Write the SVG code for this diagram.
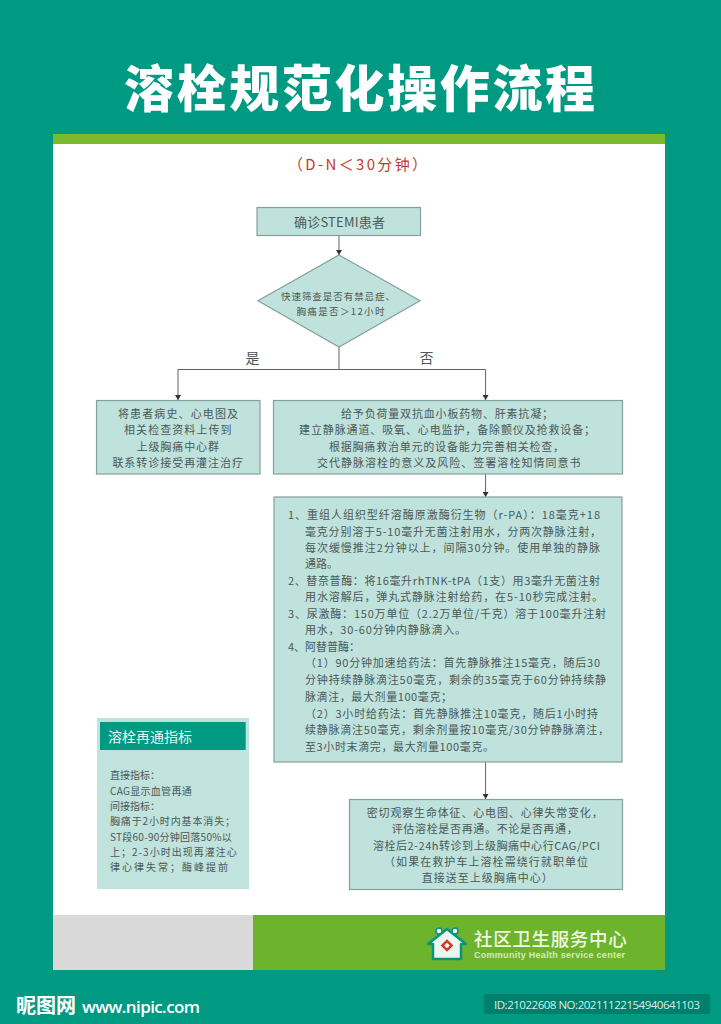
<svg xmlns="http://www.w3.org/2000/svg" width="721" height="1024" viewBox="0 0 721 1024">
<defs>
<marker id="arr" markerUnits="userSpaceOnUse" markerWidth="6" markerHeight="6" refX="5" refY="3" orient="auto"><path d="M0,0 L5,3 L0,6 Z" fill="#333"/></marker>
</defs>
<style>
text{font-family:"Noto Sans CJK SC","Liberation Sans",sans-serif;dominant-baseline:central;fill:#4c5856}
.box{fill:#bfe2dd;stroke:#84a09c;stroke-width:1.2}
.m{font-size:11px}
.n{font-size:10px}
.c{fill:none;stroke:#5c6664;stroke-width:1}
</style>
<rect width="721" height="1024" fill="#009a82"/>
<text x="124" y="85" textLength="471" lengthAdjust="spacing" style="font-size:50px;font-weight:900;fill:#fff">溶栓规范化操作流程</text>
<rect x="53" y="134" width="612" height="10" fill="#7bb92f"/>
<rect x="53" y="144" width="612" height="771" fill="#fff"/>
<rect x="53" y="915" width="200" height="55" fill="#d9d9d9"/>
<rect x="253" y="915" width="412" height="55" fill="#6db42c"/>
<text x="288" y="163" textLength="139" style="font-size:15px;fill:#c4392d">&#xFF08;D-N&#xFF1C;30分钟&#xFF09;</text>

<g id="connectors">
<path class="c" marker-end="url(#arr)" d="M339,236 V255"/>
<path class="c" d="M339,347 V369.5"/>
<path class="c" marker-end="url(#arr)" d="M339,369.5 H178 V400"/>
<path class="c" marker-end="url(#arr)" d="M339,369.5 H485.6 V400"/>
<path class="c" marker-end="url(#arr)" d="M485.6,474 V497"/>
<path class="c" marker-end="url(#arr)" d="M485.6,762 V799"/>
</g>

<g id="node-start">
<rect class="box" x="257" y="207.5" width="163.5" height="28"/>
<text x="294" y="221.7" textLength="91" style="font-size:13px">确诊STEMI患者</text>
</g>
<g id="node-decision">
<polygon class="box" points="339,255 420,300.8 339,347 258,300.8"/>
<text x="281" y="295.7" textLength="114" style="font-size:9.5px">快速筛查是否有禁忌症、</text>
<text x="296.5" y="311" textLength="88" style="font-size:9.5px">胸痛是否&#xFF1E;12小时</text>
</g>
<g id="label-yes"><text x="245.5" y="356.7" style="font-size:14px">是</text></g>
<g id="label-no"><text x="419.5" y="356.7" style="font-size:14px">否</text></g>

<g id="node-transfer">
<rect class="box" x="96.5" y="400.5" width="163.5" height="73.5"/>
<text class="m" x="118" y="412.7" textLength="120">将患者病史、心电图及</text>
<text class="m" x="124" y="429.3" textLength="107.5">相关检查资料上传到</text>
<text class="m" x="136.5" y="446" textLength="82.5">上级胸痛中心群</text>
<text class="m" x="112.4" y="462" textLength="130.6">联系转诊接受再灌注治疗</text>
</g>
<g id="node-treat">
<rect class="box" x="273.5" y="400.5" width="349" height="73.5"/>
<text class="m" x="341" y="412.7" textLength="212">给予负荷量双抗血小板药物、肝素抗凝&#xFF1B;</text>
<text class="m" x="299" y="429.3" textLength="296">建立静脉通道、吸氧、心电监护&#xFF0C;备除颤仪及抢救设备&#xFF1B;</text>
<text class="m" x="329" y="446" textLength="235">根据胸痛救治单元的设备能力完善相关检查&#xFF0C;</text>
<text class="m" x="317" y="462" textLength="263.5">交代静脉溶栓的意义及风险、签署溶栓知情同意书</text>
</g>
<g id="node-drugs">
<rect class="box" x="274" y="497" width="348" height="265"/>
<text class="m" x="288" y="514" textLength="312">1、重组人组织型纤溶酶原激酶衍生物&#xFF08;r-PA&#xFF09;&#xFF1A;18毫克+18</text>
<text class="m" x="305" y="530.7" textLength="296">毫克分别溶于5-10毫升无菌注射用水&#xFF0C;分两次静脉注射&#xFF0C;</text>
<text class="m" x="305" y="547.3" textLength="295">每次缓慢推注2分钟以上&#xFF0C;间隔30分钟。使用单独的静脉</text>
<text class="m" x="305" y="563.3" textLength="33">通路。</text>
<text class="m" x="288" y="580" textLength="312">2、替奈普酶&#xFF1A;将16毫升rhTNK-tPA&#xFF08;1支&#xFF09;用3毫升无菌注射</text>
<text class="m" x="305" y="596" textLength="298">用水溶解后&#xFF0C;弹丸式静脉注射给药&#xFF0C;在5-10秒完成注射。</text>
<text class="m" x="288" y="612.7" textLength="318">3、尿激酶&#xFF1A;150万单位&#xFF08;2.2万单位/千克&#xFF09;溶于100毫升注射</text>
<text class="m" x="305" y="629.3" textLength="161">用水&#xFF0C;30-60分钟内静脉滴入。</text>
<text class="m" x="288" y="646" textLength="72">4、阿替普酶&#xFF1A;</text>
<text class="m" x="305" y="661.7" textLength="295">&#xFF08;1&#xFF09;90分钟加速给药法&#xFF1A;首先静脉推注15毫克&#xFF0C;随后30</text>
<text class="m" x="305" y="679" textLength="301">分钟持续静脉滴注50毫克&#xFF0C;剩余的35毫克于60分钟持续静</text>
<text class="m" x="305" y="696" textLength="147">脉滴注&#xFF0C;最大剂量100毫克&#xFF1B;</text>
<text class="m" x="305" y="712.7" textLength="293">&#xFF08;2&#xFF09;3小时给药法&#xFF1A;首先静脉推注10毫克&#xFF0C;随后1小时持</text>
<text class="m" x="305" y="729.3" textLength="304">续静脉滴注50毫克&#xFF0C;剩余剂量按10毫克/30分钟静脉滴注&#xFF0C;</text>
<text class="m" x="305" y="746" textLength="189">至3小时末滴完&#xFF0C;最大剂量100毫克。</text>
</g>
<g id="node-observe">
<rect class="box" x="349.5" y="799.5" width="273" height="90"/>
<text class="m" x="366.7" y="811.7" textLength="236">密切观察生命体征、心电图、心律失常变化&#xFF0C;</text>
<text class="m" x="391.7" y="828.3" textLength="186">评估溶栓是否再通。不论是否再通&#xFF0C;</text>
<text class="m" x="373" y="845" textLength="227">溶栓后2-24h转诊到上级胸痛中心行CAG/PCI</text>
<text class="m" x="384" y="861" textLength="204">&#xFF08;如果在救护车上溶栓需绕行就职单位</text>
<text class="m" x="421.7" y="877.3" textLength="131">直接送至上级胸痛中心&#xFF09;</text>
</g>
<g id="side-panel">
<rect x="97" y="718" width="152" height="171" fill="#c0e3dd"/>
<rect x="100" y="722" width="145.7" height="28" fill="#009a82"/>
<text x="108" y="736" textLength="84" style="font-size:14px;fill:#e6f6f2">溶栓再通指标</text>
<text class="n" x="110" y="774" textLength="50">直接指标&#xFF1A;</text>
<text class="n" x="110" y="790" textLength="81.7">CAG显示血管再通</text>
<text class="n" x="110" y="805" textLength="50">间接指标&#xFF1A;</text>
<text class="n" x="110" y="820.7" textLength="125">胸痛于2小时内基本消失&#xFF1B;</text>
<text class="n" x="110" y="836.7" textLength="121.7">ST段60-90分钟回落50%以</text>
<text class="n" x="110" y="851.7" textLength="126.7">上&#xFF1B;2-3小时出现再灌注心</text>
<text class="n" x="110" y="866.7" textLength="118">律心律失常&#xFF1B;酶峰提前</text>
</g>
<g id="logo">
<path d="M428,944 L447,929 L466,944 H461 V959 H433 V944 Z" fill="#e9f7ee" stroke="#0d927e" stroke-width="2.5" stroke-linejoin="round"/>
<circle cx="439" cy="931" r="3" fill="#e9f7ee" stroke="#0d927e" stroke-width="1.5"/>
<circle cx="455" cy="931" r="3" fill="#e9f7ee" stroke="#0d927e" stroke-width="1.5"/>
<rect x="442.5" y="941" width="9" height="9" fill="#d9362b" transform="rotate(45 447 945.5)"/>
<rect x="445" y="943.5" width="4" height="4" fill="#fff" transform="rotate(45 447 945.5)"/>
<text x="474" y="938" textLength="152.7" style="font-size:18.5px;font-weight:500;fill:#eef8e2">社区卫生服务中心</text>
<text x="474" y="955" textLength="151" style="font-family:'Liberation Sans',sans-serif;font-size:9px;font-weight:700;fill:#d3ecb9">Community Health service center</text>
</g>
<g id="footer">
<text x="16" y="1004" textLength="60" style="font-size:20px;font-weight:700;fill:#fff">昵图网</text>
<text x="82" y="1006" textLength="118" style="font-family:'Open Sans','Liberation Sans',sans-serif;font-size:17px;font-weight:600;fill:#fff">www.nipic.com</text>
<rect x="484" y="994" width="226" height="20" fill="#007f6c"/>
<text x="494" y="1004" textLength="206" style="font-family:'Open Sans','Liberation Sans',sans-serif;font-size:11.5px;fill:#d5efe9">ID:21022608 NO:20211122154940641103</text>
</g>
</svg>
